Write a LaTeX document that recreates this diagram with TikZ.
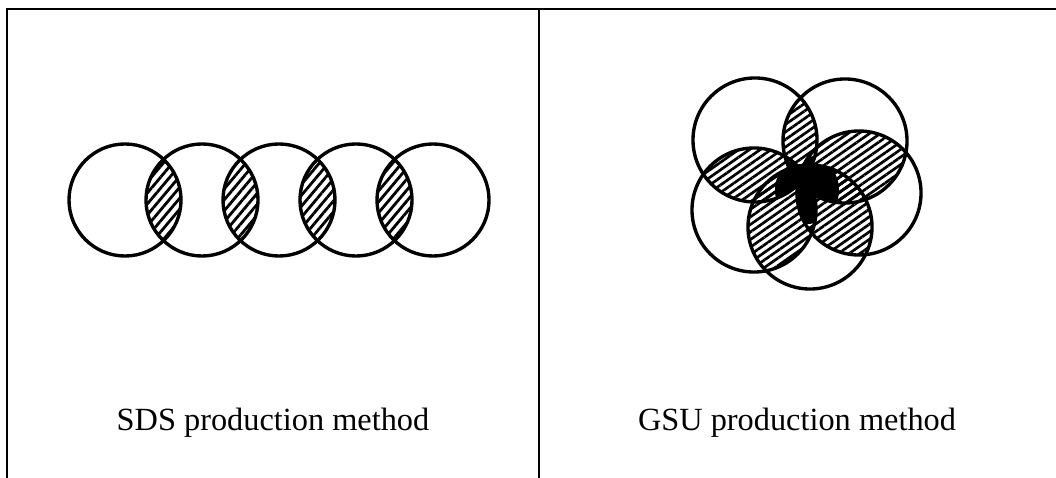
\documentclass[tikz,border=0pt]{standalone}
\usepackage{fontspec}
\setmainfont{Liberation Serif}
\usetikzlibrary{patterns.meta}

\begin{document}
\begin{tikzpicture}[x=0.025cm, y=-0.025cm,
        ring/.style={draw, line width=2.4pt},
        frame/.style={line width=1.3pt},
        hatchS/.style={pattern={Lines[angle=50, distance=5pt, line width=2pt]}},
        hatchG/.style={pattern={Lines[angle=35, distance=4.4pt, line width=1.9pt]}},
        caption/.style={font=\fontsize{23}{28}\selectfont, anchor=base}]
        \useasboundingbox (0,0) rectangle (1056,478);
        \def\sr{1.4cm}
        \def\gr{1.55cm}

        % Rahmen
        \coordinate (tl) at (7,9);
        \coordinate (tr) at (1056,9);
        \coordinate (bl) at (7,478);
        \coordinate (mt) at (539,9);
        \coordinate (mb) at (539,478);
        \draw[frame] (bl) -- (tl) -- (tr);
        \draw[frame] (mt) -- (mb);

        % SDS: Kreise in einer Reihe
        \foreach \i/\x in {1/125, 2/202, 3/279, 4/356, 5/433}
            \coordinate (s\i) at (\x,200);
        \foreach \i/\j in {1/2, 2/3, 3/4, 4/5} {
            \begin{scope}
                \clip (s\i) circle (\sr);
                \fill[hatchS] (s\j) circle (\sr);
            \end{scope}
        }
        \foreach \i in {1,...,5}
            \draw[ring] (s\i) circle (\sr);

        % GSU: Kreise im Fuenfeck
        \coordinate (g1) at (755,140);
        \coordinate (g2) at (845,141);
        \coordinate (g3) at (859,193);
        \coordinate (g4) at (810,227);
        \coordinate (g5) at (754,210);
        \coordinate (gm) at (807,190);
        \foreach \i/\j in {1/2, 2/3, 3/4, 4/5, 5/1, 1/3, 2/4, 3/5, 4/1, 5/2} {
            \begin{scope}
                \clip (g\i) circle (\gr);
                \fill[hatchG] (g\j) circle (\gr);
            \end{scope}
        }
        % dunkle Mitte
        \begin{scope}
            \clip (gm) ellipse (0.8cm and 0.85cm);
            \foreach \i/\j/\k in {1/2/3, 2/3/4, 3/4/5, 4/5/1, 5/1/2} {
                \begin{scope}
                    \clip (g\i) circle (\gr);
                    \clip (g\j) circle (\gr);
                    \fill (g\k) circle (\gr);
                \end{scope}
            }
        \end{scope}
        \foreach \i in {1,...,5}
            \draw[ring] (g\i) circle (\gr);

        \node[caption] (sds) at (273,430) {SDS production method};
        \node[caption] (gsu) at (797,430) {GSU production method};
    \end{tikzpicture}
\end{document}
